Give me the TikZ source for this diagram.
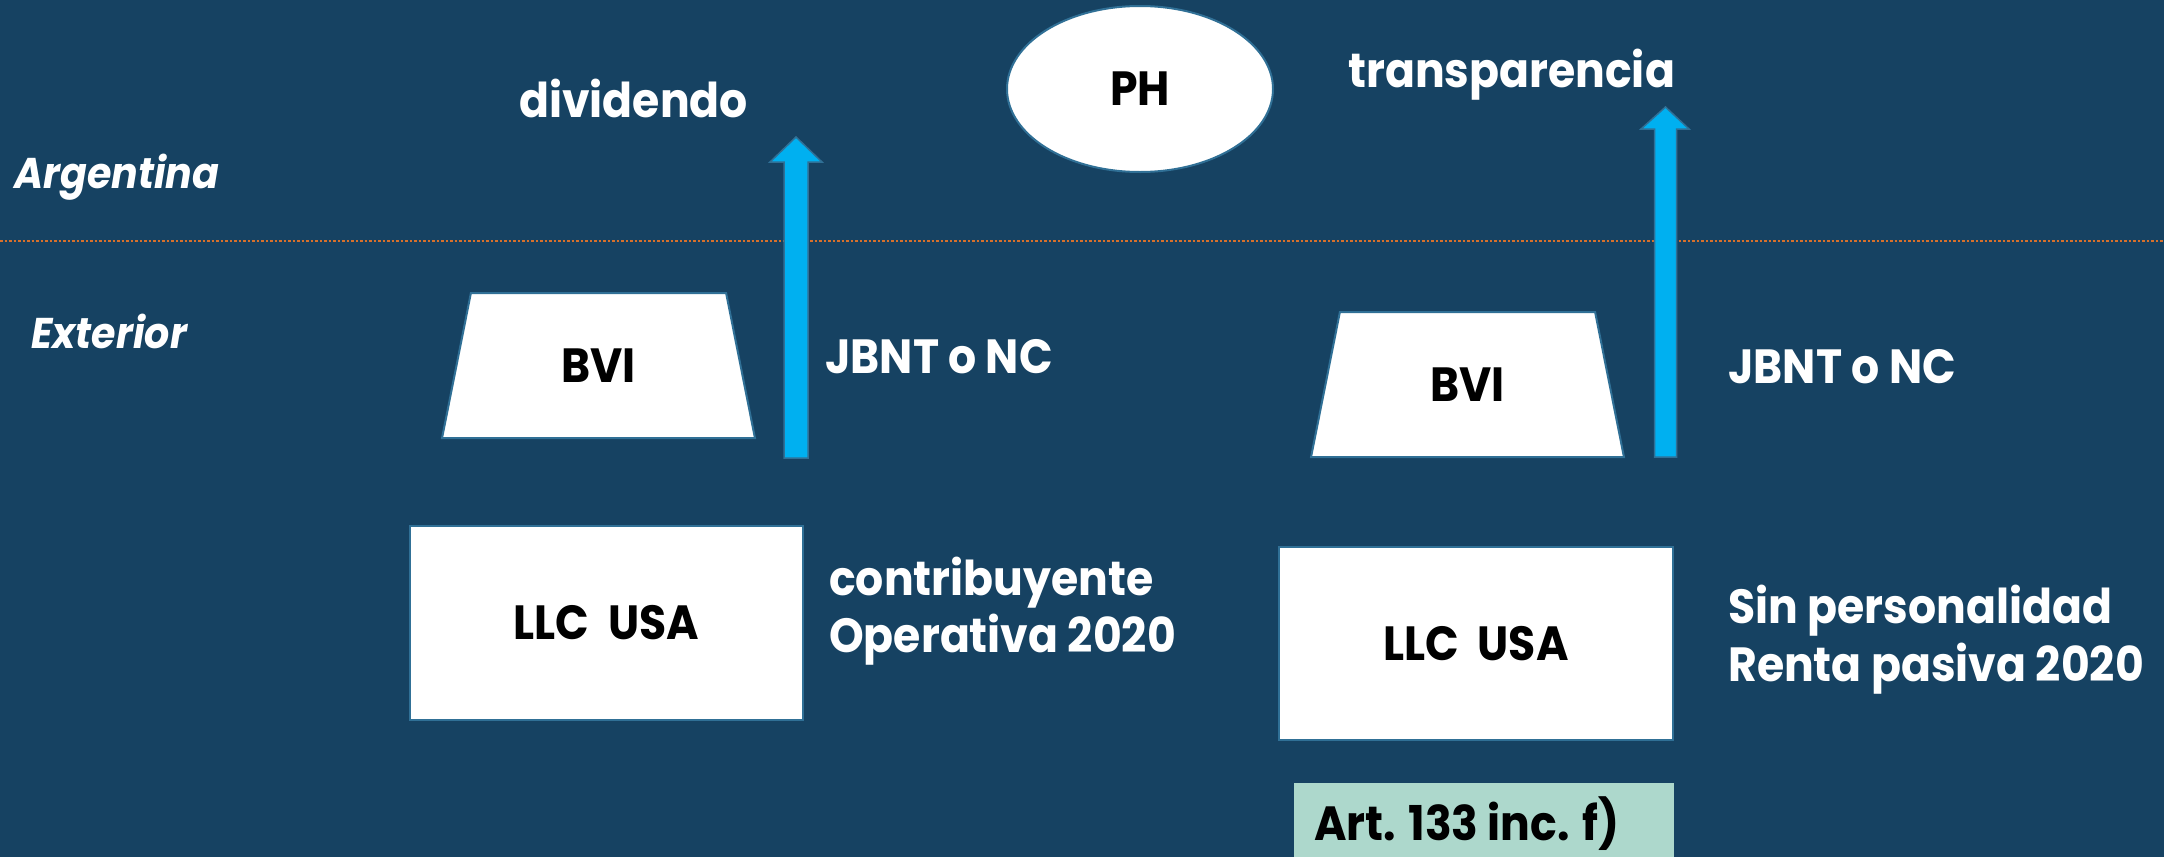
\documentclass[tikz,border=0pt]{standalone}
\usepackage{fontspec}
\setmainfont{Poppins}[FakeStretch=0.92]
\usetikzlibrary{shapes.geometric,calc}
\definecolor{bgblue}{RGB}{22,66,98}
\definecolor{edgeblue}{RGB}{48,112,150}
\definecolor{arrowcyan}{RGB}{0,176,240}
\definecolor{mint}{RGB}{173,216,204}
\definecolor{borderline}{RGB}{214,112,44}
\newcommand{\bigfont}{\fontsize{48}{56}\selectfont\bfseries}
\newcommand{\sidefont}{\fontsize{43}{50}\selectfont\bfseries\itshape}
\tikzset{
  whitelabel/.style={text=white, font=\bigfont, inner sep=0pt, anchor=base west},
  regionlabel/.style={text=white, font=\sidefont, inner sep=0pt, anchor=base west},
  entity/.style={fill=white, draw=edgeblue, line width=2pt, font=\bigfont, text=black},
  trapbox/.style={entity, trapezium, trapezium left angle=76, trapezium right angle=76,
    trapezium stretches=true, minimum width=315pt, minimum height=145pt, inner sep=0pt},
  rectbox/.style={entity, rectangle, inner sep=0pt},
  flowarrow/.style={fill=arrowcyan, draw=edgeblue, line width=1.5pt, line join=miter}
}
\begin{document}
\begin{tikzpicture}[x=1pt, y=-1pt]
  % canvas
  \fill[bgblue] (0,0) rectangle (2164,857);
  \useasboundingbox (0,0) rectangle (2164,857);

  % border between jurisdictions
  \draw[borderline, line width=1.6pt, dash pattern=on 2.5pt off 2pt] (0,241) -- (2164,241);

  % jurisdiction names
  \node[regionlabel] (arg) at (14,188) {Argentina};
  \node[regionlabel] (ext) at (31,348) {Exterior};

  % top entity
  \node[entity, ellipse, minimum width=266pt, minimum height=166pt, inner sep=0pt] (ph) at (1140,89) {PH};

  % left structure
  \node[trapbox] (bvi1) at (598.5,365.5) {BVI};
  \node[rectbox, minimum width=393pt, minimum height=194pt] (llc1) at (606.5,623) {LLC\ \ USA};
  \coordinate (a1bot) at (796,458);
  \coordinate (a1top) at (796,137);
  \draw[flowarrow] ($(a1bot)+(-12,0)$) -- (784,162) -- (770,162) -- (a1top) -- (822,162) -- (808,162) -- ($(a1bot)+(12,0)$) -- cycle;
  \node[whitelabel] (div) at (519,117) {dividendo};
  \node[whitelabel] (jb1) at (825,373) {JBNT o NC};
  \node[whitelabel] (c1) at (829,595) {contribuyente};
  \node[whitelabel] (c2) at (829,652) {Operativa 2020};

  % right structure
  \node[trapbox] (bvi2) at (1467.5,384.5) {BVI};
  \node[rectbox, minimum width=394pt, minimum height=193pt] (llc2) at (1476,643.5) {LLC\ \ USA};
  \coordinate (a2bot) at (1665.5,457);
  \coordinate (a2top) at (1665.5,107);
  \draw[flowarrow] ($(a2bot)+(-11,0)$) -- (1654.5,129) -- (1641,129) -- (a2top) -- (1689,129) -- (1676.5,129) -- ($(a2bot)+(11,0)$) -- cycle;
  \node[whitelabel] (tr) at (1348,87) {transparencia};
  \node[whitelabel] (jb2) at (1728,383) {JBNT o NC};
  \node[whitelabel] (s1) at (1728,623) {Sin personalidad};
  \node[whitelabel] (s2) at (1728,681) {Renta pasiva 2020};

  % legal reference
  \fill[mint] (1294,783) rectangle (1674,857);
  \node[whitelabel, text=black] (art) at (1314,840) {Art. 133 inc. f)};
\end{tikzpicture}
\end{document}
